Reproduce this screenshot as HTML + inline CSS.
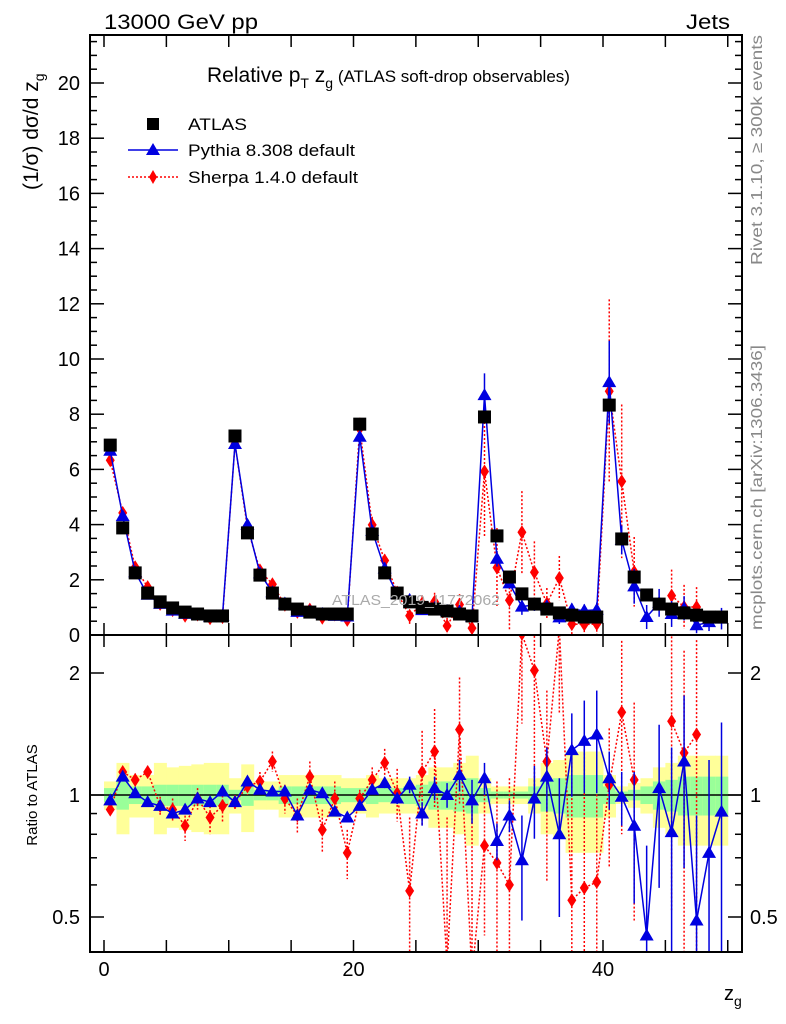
<!DOCTYPE html>
<html><head><meta charset="utf-8"><style>
body{margin:0;background:#fff;}
svg{display:block;font-family:"Liberation Sans",Arial,sans-serif;}
</style></head><body>
<svg id="c" width="786" height="1024" viewBox="0 0 786 1024" xmlns="http://www.w3.org/2000/svg">
<defs>
<clipPath id="clipMain"><rect x="90" y="35" width="652" height="600"/></clipPath>
<clipPath id="clipRatio"><rect x="90" y="635" width="652" height="317"/></clipPath>
</defs>
<g id="bands" clip-path="url(#clipRatio)"></g>
<g id="ratioMarks" clip-path="url(#clipRatio)"></g>
<g id="mainMarks" clip-path="url(#clipMain)"></g>
<g id="axes"></g>
<text x="104" y="29" font-size="21" textLength="154" lengthAdjust="spacingAndGlyphs">13000 GeV pp</text>
<text x="686" y="29" font-size="21" textLength="44" lengthAdjust="spacingAndGlyphs">Jets</text>
<text x="207" y="82" font-size="21">Relative p<tspan font-size="14" dy="6">T</tspan><tspan dy="-6"> z</tspan><tspan font-size="14" dy="6">g</tspan><tspan dy="-6" font-size="17"> (ATLAS soft-drop observables)</tspan></text>
<g>
<rect x="147" y="118" width="12" height="12" fill="#000"/>
<text x="188" y="130" font-size="17" textLength="59" lengthAdjust="spacingAndGlyphs">ATLAS</text>
<line x1="128" y1="150" x2="178" y2="150" stroke="#0000e0" stroke-width="1.5"/>
<polygon points="153,143 160,155 146,155" fill="#0000e0"/>
<text x="188" y="156" font-size="17" textLength="167" lengthAdjust="spacingAndGlyphs">Pythia 8.308 default</text>
<line x1="128" y1="177" x2="178" y2="177" stroke="#f00" stroke-width="1.5" stroke-dasharray="2,2"/>
<polygon points="153,170 157,177 153,184 149,177" fill="#f00"/>
<text x="188" y="183" font-size="17" textLength="170" lengthAdjust="spacingAndGlyphs">Sherpa 1.4.0 default</text>
</g>
<text x="332" y="605" font-size="15" fill="#aaa" textLength="168" lengthAdjust="spacingAndGlyphs">ATLAS_2019_I1772062</text>
<text transform="translate(38,190) rotate(-90)" font-size="21">(1/σ) dσ/d z<tspan font-size="14" dy="6">g</tspan></text>
<text transform="translate(37,795) rotate(-90)" font-size="15" text-anchor="middle">Ratio to ATLAS</text>
<text x="724" y="1000" font-size="20">z<tspan font-size="14" dy="6">g</tspan></text>
<text transform="translate(762,265) rotate(-90)" font-size="16" fill="#888" textLength="230" lengthAdjust="spacingAndGlyphs">Rivet 3.1.10, ≥ 300k events</text>
<text transform="translate(762,630) rotate(-90)" font-size="16" fill="#888" textLength="285" lengthAdjust="spacingAndGlyphs">mcplots.cern.ch [arXiv:1306.3436]</text>
</svg>
<script>
const atlas=[6.88,3.88,2.25,1.52,1.2,0.98,0.83,0.76,0.69,0.69,7.21,3.7,2.17,1.52,1.12,0.94,0.83,0.76,0.76,0.76,7.64,3.66,2.25,1.52,1.2,1.0,0.94,0.87,0.76,0.69,7.9,3.59,2.1,1.49,1.12,0.94,0.8,0.72,0.65,0.65,8.33,3.48,2.1,1.45,1.12,0.94,0.8,0.72,0.65,0.65];
const pythiaRatio=[0.97,1.11,1.01,0.96,0.94,0.90,0.92,0.98,0.96,1.02,0.96,1.08,1.03,1.02,1.02,0.89,1.03,1.01,0.91,0.88,0.94,1.03,1.07,0.98,1.06,0.90,1.04,1.0,1.12,0.97,1.10,0.77,0.89,0.69,0.98,1.11,0.80,1.29,1.36,1.41,1.10,0.99,0.84,0.45,1.04,0.81,1.21,0.49,0.72,0.91];
const pythiaErr=[0.01,0.01,0.01,0.01,0.01,0.01,0.01,0.01,0.01,0.01,0.02,0.02,0.02,0.02,0.02,0.02,0.02,0.02,0.02,0.02,0.02,0.02,0.03,0.03,0.05,0.06,0.07,0.07,0.1,0.12,0.1,0.08,0.08,0.2,0.2,0.2,0.3,0.3,0.35,0.4,0.18,0.15,0.3,0.3,0.45,0.5,0.55,0.4,0.5,0.6];
const sherpaRatio=[0.92,1.14,1.09,1.14,0.94,0.92,0.84,0.98,0.88,0.94,0.96,1.05,1.08,1.21,0.98,0.89,1.11,0.82,0.98,0.72,0.98,1.09,1.20,1.01,0.58,1.14,1.28,0.38,1.45,0.36,0.75,0.68,0.60,2.5,2.03,1.21,2.58,0.55,0.59,0.61,1.06,1.60,1.09,null,null,1.52,1.27,1.41,null,null];
const sherpaErr=[0.03,0.03,0.04,0.04,0.05,0.06,0.07,0.06,0.08,0.08,0.04,0.05,0.06,0.07,0.08,0.09,0.1,0.1,0.1,0.1,0.05,0.08,0.1,0.15,0.3,0.3,0.35,0.5,0.5,0.6,0.3,0.4,0.5,1.0,1.0,0.6,1.0,0.8,0.8,0.8,0.4,0.8,0.6,0,0,1.0,1.0,1.0,0,0];
const yellowBand=[0.08,0.2,0.12,0.12,0.2,0.17,0.18,0.19,0.2,0.2,0.1,0.19,0.08,0.08,0.12,0.12,0.12,0.12,0.12,0.1,0.1,0.12,0.1,0.1,0.1,0.12,0.17,0.17,0.2,0.25,0.1,0.05,0.05,0.05,0.1,0.2,0.22,0.28,0.28,0.28,0.12,0.05,0.07,0.1,0.17,0.2,0.25,0.25,0.25,0.25];
const greenBand=[0.04,0.08,0.05,0.05,0.06,0.06,0.06,0.06,0.06,0.06,0.03,0.06,0.03,0.03,0.05,0.05,0.05,0.05,0.05,0.04,0.04,0.05,0.04,0.04,0.05,0.06,0.08,0.08,0.09,0.1,0.04,0.02,0.02,0.02,0.05,0.09,0.1,0.12,0.12,0.12,0.05,0.02,0.03,0.05,0.08,0.09,0.11,0.11,0.11,0.11];
const xTickLabels=[0,20,40];
const yTickLabels=[0,2,4,6,8,10,12,14,16,18,20];
const ratioTickLabels=[0.5,1,2];

const NS="http://www.w3.org/2000/svg";
const L=90,R=742,T=35,MB=635,RB=952;
const X=z=>104+12.475*z;
const Y=v=>635-27.6*v;
const RY=r=>795-122*Math.log2(r);
function mk(tag,at,parent){const e=document.createElementNS(NS,tag);for(const k in at)e.setAttribute(k,at[k]);parent.appendChild(e);return e;}
const ax=document.getElementById('axes'),bands=document.getElementById('bands'),rm=document.getElementById('ratioMarks'),mm=document.getElementById('mainMarks');

atlas.forEach((a,i)=>{
 const x0=X(i),x1=X(i+1);
 const y=mk('rect',{x:x0,y:RY(1+yellowBand[i]),width:x1-x0+0.5,height:RY(1-yellowBand[i])-RY(1+yellowBand[i]),fill:'#ffff99'},bands);
 
 
 const g=mk('rect',{x:x0,y:RY(1+greenBand[i]),width:x1-x0+0.5,height:RY(1-greenBand[i])-RY(1+greenBand[i]),fill:'#99ff99'},bands);
 
 
});
mk('line',{x1:L,x2:R,y1:RY(1),y2:RY(1),stroke:'#000','stroke-width':1.5},bands);

function series(vals,errs,color,dash,shape,parent,yf,mainScale){
 let pts=[];
 vals.forEach((v,i)=>{ if(v===null){pts.push(null);return;}
  const val=mainScale?v*atlas[i]:v; const e=mainScale?errs[i]*atlas[i]:errs[i];
  pts.push([X(i+0.5),yf(val)]);
  if(e>0){const lo=Math.max(val-e,mainScale?0.001:0.05);
   const b=mk('line',{x1:X(i+0.5),x2:X(i+0.5),y1:yf(val+e),y2:yf(lo),stroke:color,'stroke-width':1.5,'stroke-dasharray':dash},parent);
   
   }
 });
 let d='';pts.forEach((p,i)=>{if(!p)return;d+=(d===''||!pts[i-1]?'M':'L')+p[0]+','+p[1];});
 const ln=mk('path',{d:d,fill:'none',stroke:color,'stroke-width':1.5,'stroke-dasharray':dash},parent);
 
 
 pts.forEach(p=>{if(!p)return;const [x,y]=p;let m;
  if(shape==='tri')m=mk('polygon',{points:`${x},${y-7} ${x+7},${y+5} ${x-7},${y+5}`,fill:color},parent);
  else m=mk('polygon',{points:`${x},${y-7} ${x+4.5},${y} ${x},${y+7} ${x-4.5},${y}`,fill:color},parent);
  
  });
}
series(sherpaRatio,sherpaErr,'#f00','2,2','dia',mm,Y,true);
series(pythiaRatio,pythiaErr,'#0000e0','none','tri',mm,Y,true);
atlas.forEach((a,i)=>{const s=mk('rect',{x:X(i+0.5)-6.5,y:Y(a)-6.5,width:13,height:13,fill:'#000'},mm);
 
 });
series(sherpaRatio,sherpaErr,'#f00','2,2','dia',rm,RY,false);
series(pythiaRatio,pythiaErr,'#0000e0','none','tri',rm,RY,false);

mk('rect',{x:L,y:T,width:R-L,height:RB-T,fill:'none',stroke:'#000','stroke-width':2},ax);
mk('line',{x1:L,x2:R,y1:MB,y2:MB,stroke:'#000','stroke-width':2},ax);
for(let z=0;z<=50;z+=5){const x=X(z);
 [[MB,-12],[T,12],[RB,-12],[MB,12]].forEach(([y,d])=>mk('line',{x1:x,x2:x,y1:y,y2:y+d,stroke:'#000','stroke-width':1.5},ax));}
xTickLabels.forEach(v=>{const t=mk('text',{x:X(v),y:976,'font-size':20,'text-anchor':'middle'},ax);t.textContent=v;
 
 });
for(let v=0;v<=21.5;v+=0.5){const y=Y(v);const len=(Math.abs(v%2)<1e-6)?14:7;
 mk('line',{x1:L,x2:L+len,y1:y,y2:y,stroke:'#000','stroke-width':1.5},ax);
 mk('line',{x1:R,x2:R-len,y1:y,y2:y,stroke:'#000','stroke-width':1.5},ax);}
yTickLabels.forEach(v=>{const t=mk('text',{x:80,y:Y(v)+7,'font-size':20,'text-anchor':'end'},ax);t.textContent=v;
 
 });
const rt=[0.5,0.6,0.7,0.8,0.9,1,2];
rt.forEach(r=>{const y=RY(r);const len=(r===0.5||r===1||r===2)?14:7;
 mk('line',{x1:L,x2:L+len,y1:y,y2:y,stroke:'#000','stroke-width':1.5},ax);
 mk('line',{x1:R,x2:R-len,y1:y,y2:y,stroke:'#000','stroke-width':1.5},ax);});
ratioTickLabels.forEach(v=>{
 const t=mk('text',{x:80,y:RY(v)+7,'font-size':20,'text-anchor':'end'},ax);t.textContent=v;
 
 
 const t2=mk('text',{x:750,y:RY(v)+7,'font-size':20},ax);t2.textContent=v;
 
 });
</script>
</body></html>
